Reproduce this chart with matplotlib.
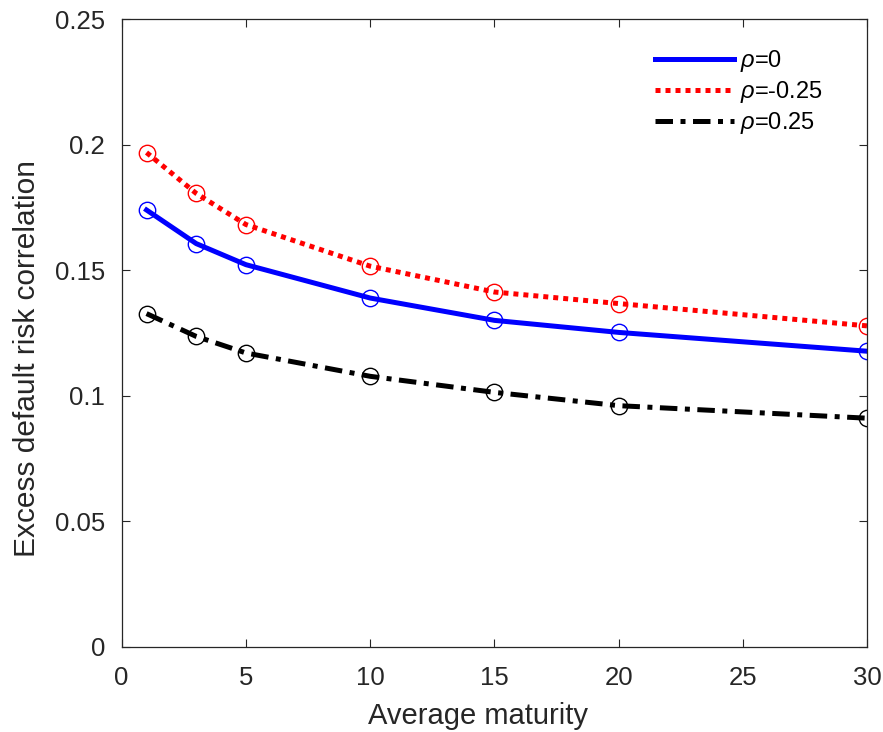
import numpy as np
import matplotlib
matplotlib.use("Agg")
import matplotlib.pyplot as plt

plt.rcParams['font.family'] = ['Liberation Sans', 'DejaVu Sans']
plt.rcParams['mathtext.fontset'] = 'custom'
plt.rcParams['mathtext.it'] = 'Liberation Sans:italic'

# average maturity (years)
maturity = [1, 3, 5, 10, 15, 20, 30]

# excess default risk correlation for each rho
corr_rho0 = [0.1740, 0.1606, 0.1522, 0.1389, 0.1300, 0.1252, 0.1177]
corr_rho_neg = [0.1969, 0.1806, 0.1682, 0.1516, 0.1413, 0.1367, 0.1278]
corr_rho_pos = [0.1327, 0.1236, 0.1170, 0.1077, 0.1013, 0.0960, 0.0910]

labels = [r'$\rho$=0', r'$\rho$=-0.25', r'$\rho$=0.25']

fig = plt.figure(figsize=(8.83, 7.32), dpi=100)
ax = fig.add_axes([0.1378, 0.1168, 0.8444, 0.8568])

# lines
ax.plot(maturity, corr_rho0, color='blue', lw=3.6, ls='-', label=labels[0])
ax.plot(maturity, corr_rho_neg, color='red', lw=3.6, ls=(0, (1, 1)), label=labels[1])
ax.plot(maturity, corr_rho_pos, color='black', lw=3.6, ls=(0, (3.5, 1.5, 1, 1.5)), label=labels[2])

# open circle markers
ax.plot(maturity, corr_rho0, 'o', mfc='none', mec='blue', ms=11.8, mew=1.0)
ax.plot(maturity, corr_rho_neg, 'o', mfc='none', mec='red', ms=11.8, mew=1.0)
ax.plot(maturity, corr_rho_pos, 'o', mfc='none', mec='black', ms=11.8, mew=1.0)

ax.set_xlim(0, 30)
ax.set_ylim(0, 0.25)
ax.set_xticks([0, 5, 10, 15, 20, 25, 30])
ax.set_yticks([0, 0.05, 0.1, 0.15, 0.2, 0.25])
ax.set_yticklabels(['0', '0.05', '0.1', '0.15', '0.2', '0.25'])
ax.tick_params(direction='in', top=True, right=True, labelsize=18.5, length=6, width=0.8,
               colors='#262626')
ax.tick_params(axis='y', pad=12)
ax.tick_params(axis='x', pad=14)
for s in ax.spines.values():
    s.set_linewidth(0.9)
    s.set_color('#262626')

ax.set_xlabel('Average maturity', fontsize=21, color='#262626')
ax.set_ylabel('Excess default risk correlation', fontsize=21.5, color='#262626')
ax.xaxis.label.set_va('baseline')
ax.yaxis.label.set_va('baseline')
ax.xaxis.set_label_coords(0.478, -0.1237)
ax.yaxis.set_label_coords(-0.1163, 0.4594)

ax.legend(loc='upper left', frameon=False, fontsize=17, handlelength=3.35,
          bbox_to_anchor=(0.7153, 0.954), borderaxespad=0, borderpad=0,
          labelspacing=0.215, handletextpad=0.25)

fig.savefig('out.png', dpi=100)
